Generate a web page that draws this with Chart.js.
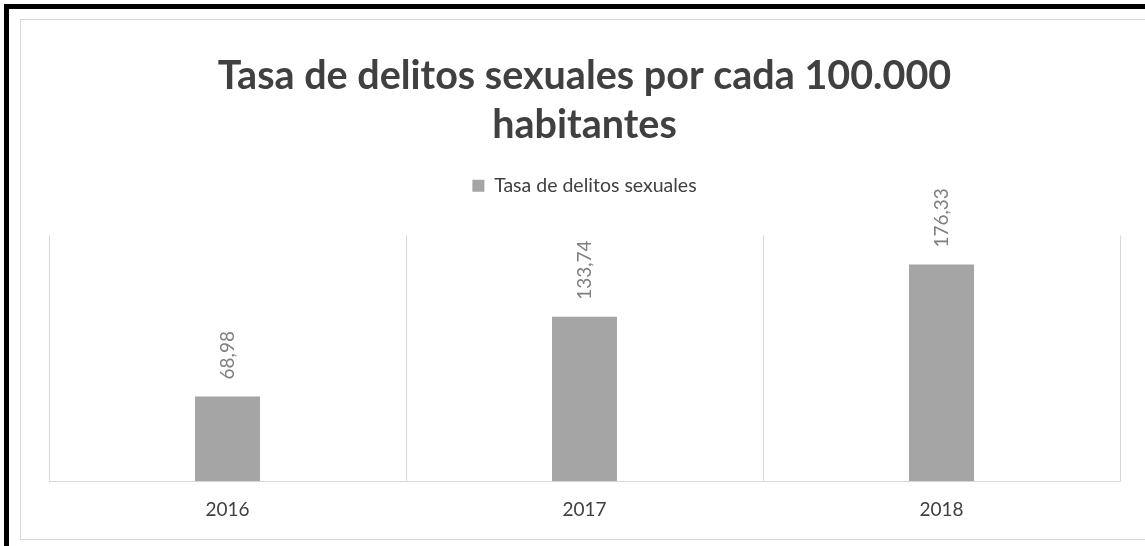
<!DOCTYPE html>
<html>
<head>
<meta charset="utf-8">
<script src="https://cdn.jsdelivr.net/npm/chart.js@4.4.0/dist/chart.umd.min.js"></script>
<style>
  html, body { margin: 0; padding: 0; background: #fff; overflow: hidden; }
  #marco { position: absolute; left: 4px; top: 4px; width: 1150px; height: 560px; border: 5px solid #000; box-sizing: border-box; }
  #caja { position: absolute; left: 20px; top: 19px; width: 1140px; height: 521px; border: 1px solid #d9d9d9; box-sizing: border-box; background: #fff; }
  #wrap { position: absolute; left: 21px; top: 20px; width: 1126px; height: 518px; }
</style>
</head>
<body>
<div id="marco"></div>
<div id="caja"></div>
<div id="wrap"><canvas id="grafico"></canvas></div>
<script>
// datos
const anios = ['2016', '2017', '2018'];
const tasas = [68.98, 133.74, 176.33];
const etiquetas = ['68,98', '133,74', '176,33'];
const tituloLineas = ['Tasa de delitos sexuales por cada 100.000', 'habitantes'];
const nombreSerie = 'Tasa de delitos sexuales';

const FUENTE = 'Lato, "Open Sans", sans-serif';

// espacio extra debajo de la leyenda
const espacioLeyenda = {
    id: 'espacioLeyenda',
    beforeInit(chart) {
        const fitOriginal = chart.legend.fit;
        chart.legend.fit = function () {
            fitOriginal.bind(chart.legend)();
            this.height += 30;
        };
    }
};

// etiquetas verticales encima de cada barra
const etiquetasBarras = {
    id: 'etiquetasBarras',
    afterDatasetsDraw(chart) {
        const ctx = chart.ctx;
        const meta = chart.getDatasetMeta(0);
        ctx.save();
        ctx.fillStyle = '#7f7f7f';
        ctx.font = '19px ' + FUENTE;
        ctx.textAlign = 'left';
        ctx.textBaseline = 'middle';
        meta.data.forEach((bar, i) => {
            ctx.save();
            ctx.translate(bar.x, bar.y - 17);
            ctx.rotate(-Math.PI / 2);
            ctx.fillText(etiquetas[i], 0, 0);
            ctx.restore();
        });
        ctx.restore();
    }
};

const canvas = document.getElementById('grafico');
new Chart(canvas, {
    type: 'bar',
    data: {
        labels: anios,
        datasets: [{
            label: nombreSerie,
            data: tasas,
            backgroundColor: '#a5a5a5',
            borderWidth: 0,
            categoryPercentage: 1,
            barPercentage: 0.182
        }]
    },
    options: {
        responsive: true,
        maintainAspectRatio: false,
        animation: false,
        layout: { padding: { left: 28, right: 27, top: 32, bottom: 0 } },
        plugins: {
            title: {
                display: true,
                text: tituloLineas,
                color: '#404040',
                font: { family: FUENTE, size: 39.5, weight: 'bold', lineHeight: 1.24 },
                padding: { top: 0, bottom: 16 }
            },
            legend: {
                display: true,
                position: 'top',
                labels: {
                    color: '#404040',
                    font: { family: FUENTE, size: 19.5 },
                    boxWidth: 12,
                    boxHeight: 12,
                    padding: 10
                }
            },
            tooltip: { enabled: false }
        },
        scales: {
            x: {
                grid: { display: true, color: '#d9d9d9', offset: true, drawTicks: false },
                border: { display: true, color: '#d9d9d9' },
                ticks: { color: '#404040', font: { family: FUENTE, size: 19 }, padding: 17 }
            },
            y: {
                display: false,
                min: 0,
                max: 200
            }
        }
    },
    plugins: [espacioLeyenda, etiquetasBarras]
});
</script>
</body>
</html>
